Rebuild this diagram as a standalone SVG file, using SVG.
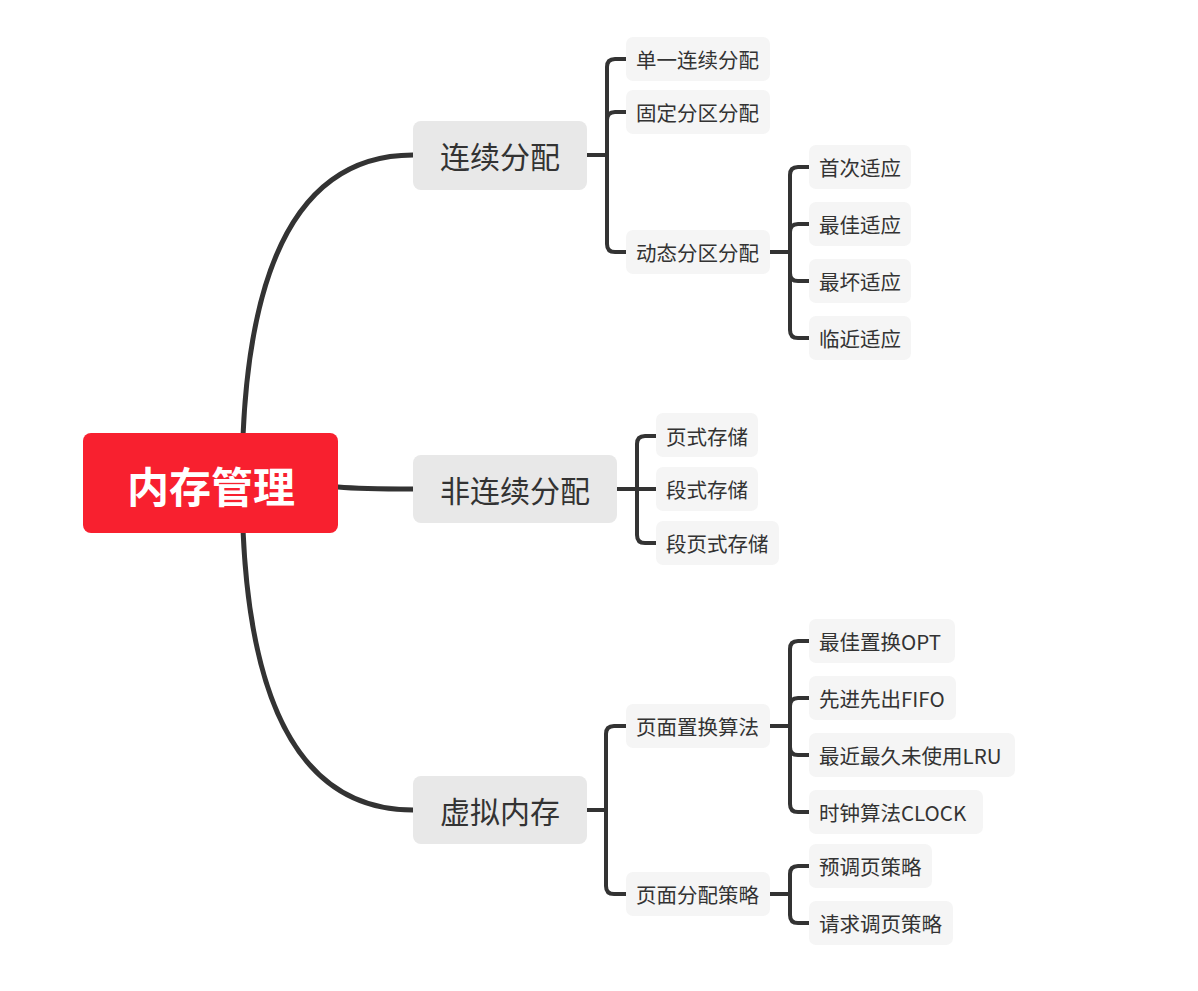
<svg xmlns="http://www.w3.org/2000/svg" width="1198" height="991" viewBox="0 0 1198 991">
<style>
.root rect{fill:#F8202F}
.root text{fill:#fff;font-size:42px;font-weight:bold;text-anchor:middle}
.l1 rect{fill:#E8E8E8}
.l1 text{fill:#333;font-size:30px;text-anchor:middle}
.l2 rect{fill:#F5F5F5}
.l2 text{fill:#333;font-size:20.5px}
text{font-family:"Noto Sans CJK SC","Open Sans",sans-serif;dominant-baseline:central}
.c{fill:none;stroke:#333;stroke-linecap:round;stroke-linejoin:round}
.c1{stroke-width:5}
.c2{stroke-width:4}
</style>
<rect width="1198" height="991" fill="#fff"/>
<g id="connectors">
<path class="c c1" d="M243 436 Q255 155 413 155"/>
<path class="c c1" d="M338 487 Q360 489 413 489"/>
<path class="c c1" d="M243 530 Q255 810 413 810"/>
<path class="c c2" d="M587 155 H607 M626 59 H615 Q607 59 607 67 V244 Q607 252 615 252 H626 M607 120 Q607 112 615 112 H626"/>
<path class="c c2" d="M617 489 H637 M656 436 H645 Q637 436 637 444 V535 Q637 543 645 543 H656 M637 489 H656"/>
<path class="c c2" d="M770 252 H790 M809 167 H798 Q790 167 790 175 V330 Q790 338 798 338 H809 M790 232 Q790 224 798 224 H809 M790 273 Q790 281 798 281 H809"/>
<path class="c c2" d="M587 810 H606 M626 726 H614 Q606 726 606 734 V886 Q606 894 614 894 H626"/>
<path class="c c2" d="M770 726 H790 M809 641 H798 Q790 641 790 649 V804 Q790 812 798 812 H809 M790 706 Q790 698 798 698 H809 M790 747 Q790 755 798 755 H809"/>
<path class="c c2" d="M770 894 H790 M809 866 H798 Q790 866 790 874 V915 Q790 923 798 923 H809"/>
</g>
<g id="root" class="root"><rect x="83" y="433" width="255" height="100" rx="8"/><text x="211" y="484">内存管理</text></g>
<g id="n1" class="l1"><rect x="413" y="121" width="174" height="69" rx="8"/><text x="500" y="155">连续分配</text></g>
<g id="n2" class="l1"><rect x="413" y="455" width="204" height="68" rx="8"/><text x="515" y="489">非连续分配</text></g>
<g id="n3" class="l1"><rect x="413" y="776" width="174" height="68" rx="8"/><text x="500" y="810">虚拟内存</text></g>
<g id="n1a" class="l2"><rect x="626" y="37" width="144" height="44" rx="7"/><text x="636" y="59">单一连续分配</text></g>
<g id="n1b" class="l2"><rect x="626" y="90" width="144" height="44" rx="7"/><text x="636" y="112">固定分区分配</text></g>
<g id="n1c" class="l2"><rect x="626" y="230" width="144" height="44" rx="7"/><text x="636" y="252">动态分区分配</text></g>
<g id="n1c1" class="l2"><rect x="809" y="145" width="102" height="44" rx="7"/><text x="819" y="167">首次适应</text></g>
<g id="n1c2" class="l2"><rect x="809" y="202" width="102" height="44" rx="7"/><text x="819" y="224">最佳适应</text></g>
<g id="n1c3" class="l2"><rect x="809" y="259" width="102" height="44" rx="7"/><text x="819" y="281">最坏适应</text></g>
<g id="n1c4" class="l2"><rect x="809" y="316" width="102" height="44" rx="7"/><text x="819" y="338">临近适应</text></g>
<g id="n2a" class="l2"><rect x="656" y="413" width="102" height="44" rx="7"/><text x="666" y="436">页式存储</text></g>
<g id="n2b" class="l2"><rect x="656" y="467" width="102" height="44" rx="7"/><text x="666" y="489">段式存储</text></g>
<g id="n2c" class="l2"><rect x="656" y="521" width="123" height="44" rx="7"/><text x="666" y="543">段页式存储</text></g>
<g id="n3a" class="l2"><rect x="626" y="704" width="144" height="44" rx="7"/><text x="636" y="726">页面置换算法</text></g>
<g id="n3b" class="l2"><rect x="626" y="872" width="144" height="44" rx="7"/><text x="636" y="894">页面分配策略</text></g>
<g id="n3a1" class="l2"><rect x="809" y="619" width="146" height="44" rx="7"/><text x="819" y="641">最佳置换OPT</text></g>
<g id="n3a2" class="l2"><rect x="809" y="676" width="147" height="44" rx="7"/><text x="819" y="698">先进先出FIFO</text></g>
<g id="n3a3" class="l2"><rect x="809" y="733" width="206" height="44" rx="7"/><text x="819" y="755">最近最久未使用LRU</text></g>
<g id="n3a4" class="l2"><rect x="809" y="790" width="174" height="44" rx="7"/><text x="819" y="812">时钟算法CLOCK</text></g>
<g id="n3b1" class="l2"><rect x="809" y="844" width="123" height="44" rx="7"/><text x="819" y="866">预调页策略</text></g>
<g id="n3b2" class="l2"><rect x="809" y="901" width="144" height="44" rx="7"/><text x="819" y="923">请求调页策略</text></g>
</svg>
